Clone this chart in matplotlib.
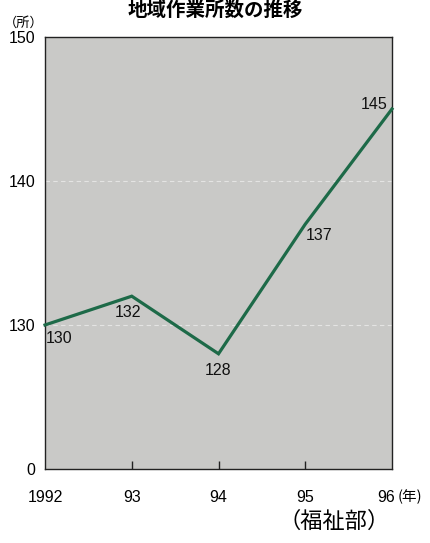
import matplotlib
matplotlib.use("Agg")
import matplotlib.pyplot as plt

plt.rcParams["font.family"] = ["Liberation Sans", "Noto Sans CJK JP"]

# data
years = [1992, 1993, 1994, 1995, 1996]
counts = [130, 132, 128, 137, 145]
xtick_labels = ["1992", "93", "94", "95", "96"]
ytick_vals = [120, 130, 140, 150]
ytick_labels = ["0", "130", "140", "150"]
# label offsets (points) per value
label_offsets = [(10, -10), (-3, -12), (0, -12), (10, -8), (-13, 3)]

GREEN = "#1d6a48"
FS = 11.5

fig = plt.figure(figsize=(4.30, 5.43), dpi=100)
ax = fig.add_axes([0.1047, 0.1363, 0.8069, 0.7956])
ax.set_facecolor("#c9c9c7")

ax.plot(years, counts, color=GREEN, lw=2.3, solid_joinstyle="miter", zorder=3, clip_on=False)
for x, y, (dx, dy) in zip(years, counts, label_offsets):
    ax.annotate(str(y), (x, y), xytext=(dx, dy), textcoords="offset points",
                ha="center", va="center", fontsize=FS, color="#111111", zorder=4)

# faint dashed grid lines
for v in [130, 140]:
    ax.axhline(v, color="white", lw=0.8, ls=(0, (4, 3)), alpha=0.5, zorder=1)

ax.set_xlim(1992, 1996)
ax.set_ylim(120, 150)
ax.set_xticks(years[1:-1])
ax.set_xticklabels([])
ax.tick_params(axis="x", direction="in", length=6, width=1, color="#222222")
ax.set_yticks(ytick_vals)
ax.set_yticklabels(ytick_labels, fontsize=FS)
ax.tick_params(axis="y", length=0, pad=7)
for s in ax.spines.values():
    s.set_color("#222222")
    s.set_linewidth(1)

# x labels below axis
trans = ax.get_xaxis_transform()
for x, lab in zip(years[:-1], xtick_labels[:-1]):
    ax.text(x, -0.065, lab, transform=trans, ha="center", va="center", fontsize=FS)
ax.text(1995.93, -0.065, "96", transform=trans, ha="center", va="center", fontsize=FS)
ax.text(1996.06, -0.065, "(年)", transform=trans, ha="left", va="center", fontsize=10.5,
        family=["Noto Sans CJK JP"])

fig.text(0.01, 0.957, "（所）", ha="left", va="center", fontsize=9.5)
fig.text(0.5, 0.999, "地域作業所数の推移", ha="center", va="top", fontsize=14, fontweight="bold")
fig.text(0.778, 0.038, "（福祉部）", ha="center", va="center", fontsize=16)

fig.savefig("out.png", dpi=100)
